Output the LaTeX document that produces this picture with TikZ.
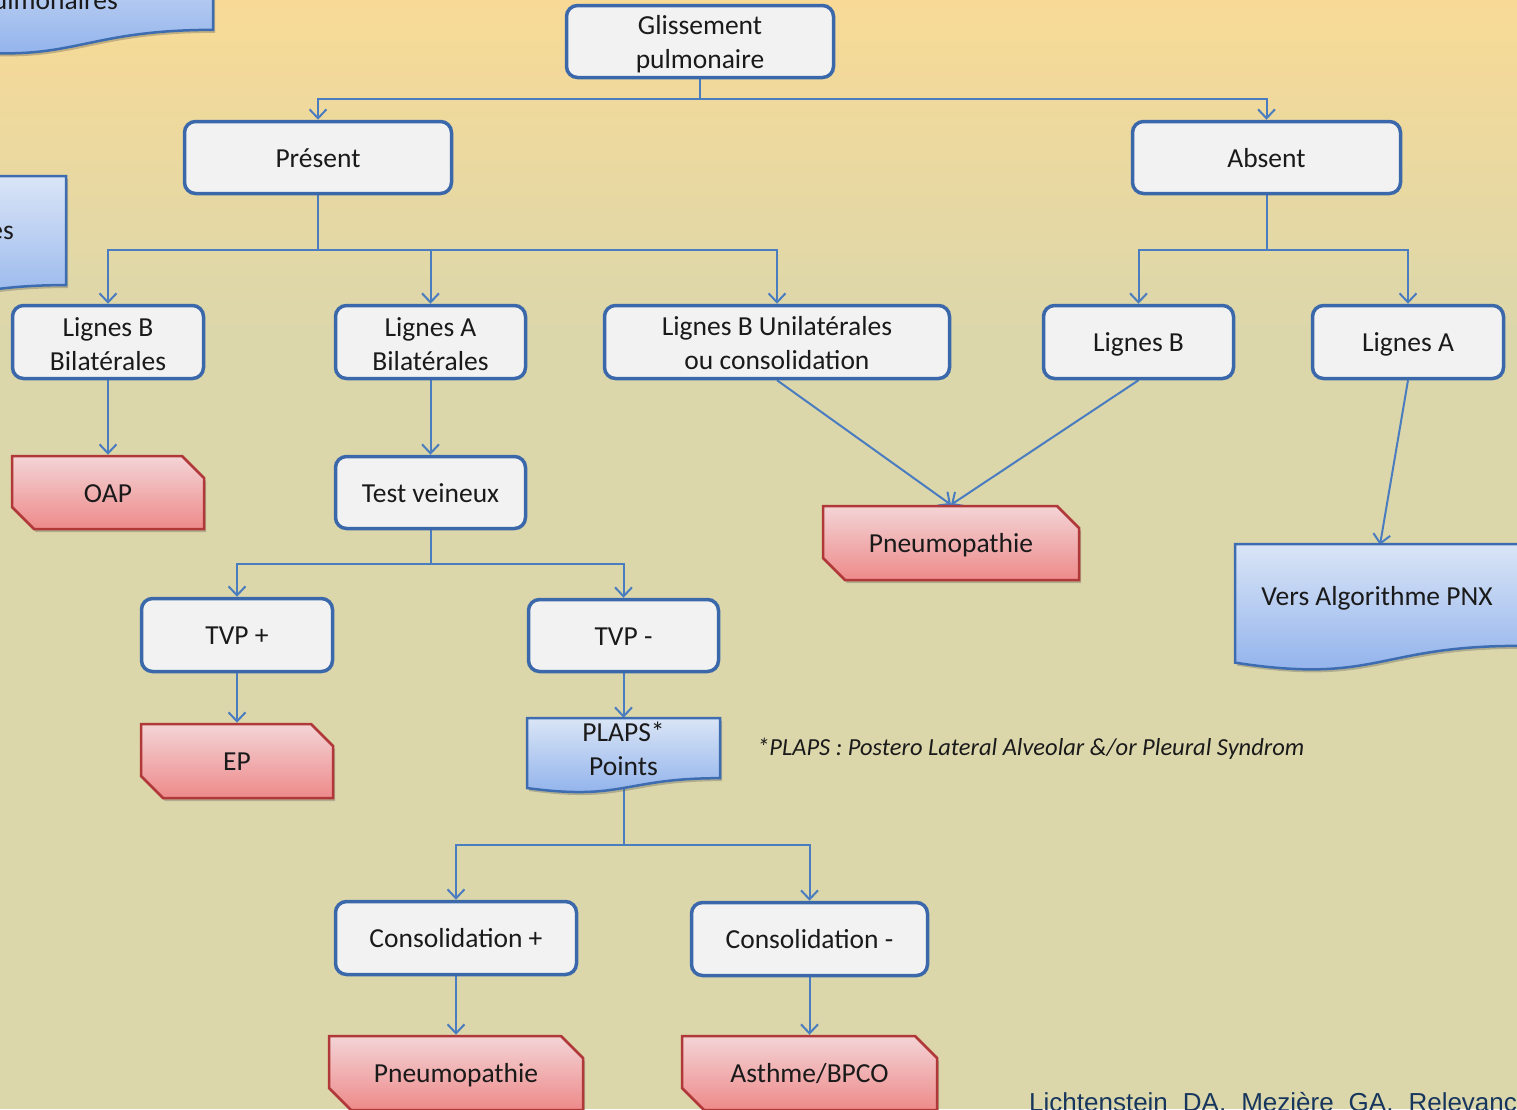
\documentclass[tikz,border=0pt]{standalone}
\usepackage{fontspec}
\setmainfont{Carlito}
\newfontfamily\arialf{Liberation Sans}
\usetikzlibrary{arrows.meta,shapes.misc,shadows}
\definecolor{bgtop}{HTML}{F8DA96}
\definecolor{bgbot}{HTML}{DCD7AB}
\definecolor{boxblue}{HTML}{3A68AA}
\definecolor{boxfill}{HTML}{F2F2F2}
\definecolor{linkblue}{HTML}{4A7CC0}
\definecolor{redtop}{HTML}{F3D4D6}
\definecolor{redbot}{HTML}{EE8A8A}
\definecolor{redline}{HTML}{B03838}
\definecolor{bluetop}{HTML}{DAE5F6}
\definecolor{bluebot}{HTML}{8BAEEB}
\definecolor{blueline}{HTML}{3D6DB0}
\definecolor{txt}{HTML}{1A1A1A}
\definecolor{refblue}{HTML}{17365D}
\pgfdeclarelayer{bglayer}
\pgfdeclarelayer{linklayer}
\pgfsetlayers{bglayer,linklayer,main}
\newcommand\boxfont{\fontsize{27.5}{34}\selectfont}
\newcommand\mystrut{\rule[-6pt]{0pt}{31pt}}
\newcommand\docshape[4]{% x1, y1, x2, h
  \shade[docpath] (#1,#2) -- (#3,#2) -- (#3,{#2+0.802*#4})
    .. controls ({(#1+#3)/2},{#2+0.802*#4}) and ({(#1+#3)/2},{#2+1.107*#4}) .. (#1,{#2+0.934*#4}) -- cycle;}
\tikzset{
  mysh/.style={drop shadow={shadow xshift=2pt,shadow yshift=-3pt,opacity=0.3,fill=black!70}},
  struts/.style={execute at begin node={\mystrut}},
  wbox/.style={draw=boxblue, line width=3.5pt, fill=boxfill, rounded corners=11pt,
    align=center, font=\boxfont, text=txt, inner sep=0pt, struts},
  rbox/.style={chamfered rectangle, chamfered rectangle corners={north east,south west},
    chamfered rectangle xsep=11pt, chamfered rectangle ysep=11pt,
    draw=redline, line width=2.5pt, top color=redtop, bottom color=redbot, mysh,
    align=center, font=\boxfont, text=txt, inner sep=0pt, struts},
  docpath/.style={top color=bluetop, bottom color=bluebot, draw=blueline, line width=2.5pt, mysh},
  docnode/.style={draw=none, inner sep=0pt, align=center, font=\boxfont, text=txt, struts},
  btext/.style={draw=none, inner sep=0pt, align=center, font=\boxfont, text=txt, anchor=north, struts},
  partnode/.style={draw=none, inner sep=0pt, font=\boxfont, text=txt},
  link/.style={draw=linkblue, line width=2pt, -{Straight Barb[length=9pt,width=17pt]}}
}
\begin{document}
\begin{tikzpicture}[x=1pt,y=-1pt]
\useasboundingbox (0,0) rectangle (1517,1109);
\begin{pgfonlayer}{bglayer}
  \fill[bgbot] (0,0) rectangle (1517,1109);
  \shade[top color=bgtop, bottom color=bgbot] (0,0) rectangle (1517,330);
\end{pgfonlayer}

% partial shapes on the left
\docshape{-69}{-72}{213}{127}
\node[partnode, anchor=base east] (txta) at (118,9) {pulmonaires};
\docshape{-216}{176}{66}{136}
\node[partnode, anchor=base east] (txtb) at (14,239) {es};

% white boxes
\node[wbox, minimum width=267pt, minimum height=72pt] (glis) at (700,41.5) {};
\node[btext] (glist) at (700,15) {Glissement\\pulmonaire};
\node[wbox, minimum width=267pt, minimum height=72pt] (pres) at (318,157.5) {Présent};
\node[wbox, minimum width=268pt, minimum height=72pt] (abs) at (1266.5,157.5) {Absent};
\node[wbox, minimum width=191pt, minimum height=73pt] (lbb) at (108,342) {};
\node[btext] (lbbt) at (108,317) {Lignes B\\Bilatérales};
\node[wbox, minimum width=190pt, minimum height=73pt] (lab) at (430.5,342) {};
\node[btext] (labt) at (430.5,317) {Lignes A\\Bilatérales};
\node[wbox, minimum width=345pt, minimum height=73pt] (lbu) at (777,342) {};
\node[btext] (lbut) at (777,316.5) {Lignes B Unilatérales\\ou consolidation};
\node[wbox, minimum width=190pt, minimum height=73pt] (lb) at (1138.5,342) {Lignes B};
\node[wbox, minimum width=191pt, minimum height=73pt] (la) at (1408,342) {Lignes A};
\node[wbox, minimum width=190pt, minimum height=72pt] (tv) at (430.5,492.5) {Test veineux};
\node[wbox, minimum width=191pt, minimum height=73pt] (tvpp) at (237,635) {TVP +};
\node[wbox, minimum width=190pt, minimum height=72pt] (tvpm) at (623.5,635.5) {TVP -};
\node[wbox, minimum width=241pt, minimum height=73pt] (cp) at (456,938) {Consolidation +};
\node[wbox, minimum width=236pt, minimum height=73pt] (cm) at (809.5,939) {Consolidation -};

% red boxes
\node[rbox, minimum width=192pt, minimum height=73pt] (oap) at (108,492.5) {OAP};
\node[rbox, minimum width=192pt, minimum height=74pt] (ep) at (237,761) {EP};
\node[rbox, minimum width=256pt, minimum height=74pt] (pn1) at (951,543) {Pneumopathie};
\node[rbox, minimum width=254pt, minimum height=74pt] (pn2) at (456,1073) {Pneumopathie};
\node[rbox, minimum width=255pt, minimum height=74pt] (asth) at (809.5,1073) {Asthme/BPCO};

% blue document boxes
\docshape{1235}{544}{1519}{127}
\node[docnode, minimum width=284pt, minimum height=102pt] (pnx) at (1377,596) {Vers Algorithme PNX};
\docshape{527}{718}{720}{75}
\node[docnode, minimum width=193pt, minimum height=60pt] (plaps) at (623.5,748) {};
\node[btext] (plapst) at (623.5,722) {PLAPS*\\Points};

% notes
\node[anchor=west, font=\fontsize{24.5}{28}\selectfont\itshape, text=txt, inner sep=0pt] (note) at (757,749)
  {*PLAPS : Postero Lateral Alveolar \&/or Pleural Syndrom};
\node[anchor=base west, font=\arialf\fontsize{26}{30}\selectfont, text=refblue, inner sep=0pt] (ref) at (1029,1111)
  {\spaceskip=15pt Lichtenstein DA, Mezière GA, Relevance};

% connectors
\begin{pgfonlayer}{linklayer}
  \draw[link] (glis.south) -- ++(0,20) -| (pres.north);
  \draw[link] (glis.south) -- ++(0,20) -| (abs.north);
  \draw[link] (pres.south) -- ++(0,55) -| (lbb.north);
  \draw[link] (pres.south) -- ++(0,55) -| (lab.north);
  \draw[link] (pres.south) -- ++(0,55) -| (lbu.north);
  \draw[link] (abs.south) -- ++(0,55) -| (lb.north);
  \draw[link] (abs.south) -- ++(0,55) -| (la.north);
  \draw[link] (lbb.south) -- (oap.north);
  \draw[link] (lab.south) -- (tv.north);
  \draw[link] (lbu.south) -- (pn1.north);
  \draw[link] (lb.south) -- (pn1.north);
  \draw[link] (la.south) -- ([xshift=3pt]pnx.north);
  \draw[link] (tv.south) -- ++(0,34) -| (tvpp.north);
  \draw[link] (tv.south) -- ++(0,34) -| (tvpm.north);
  \draw[link] (tvpp.south) -- (ep.north);
  \draw[link] (tvpm.south) -- (plaps.north);
  \draw[link] (plaps.south) -- ++(0,67) -| (cp.north);
  \draw[link] (plaps.south) -- ++(0,67) -| (cm.north);
  \draw[link] (cp.south) -- (pn2.north);
  \draw[link] (cm.south) -- (asth.north);
\end{pgfonlayer}
\end{tikzpicture}
\end{document}
